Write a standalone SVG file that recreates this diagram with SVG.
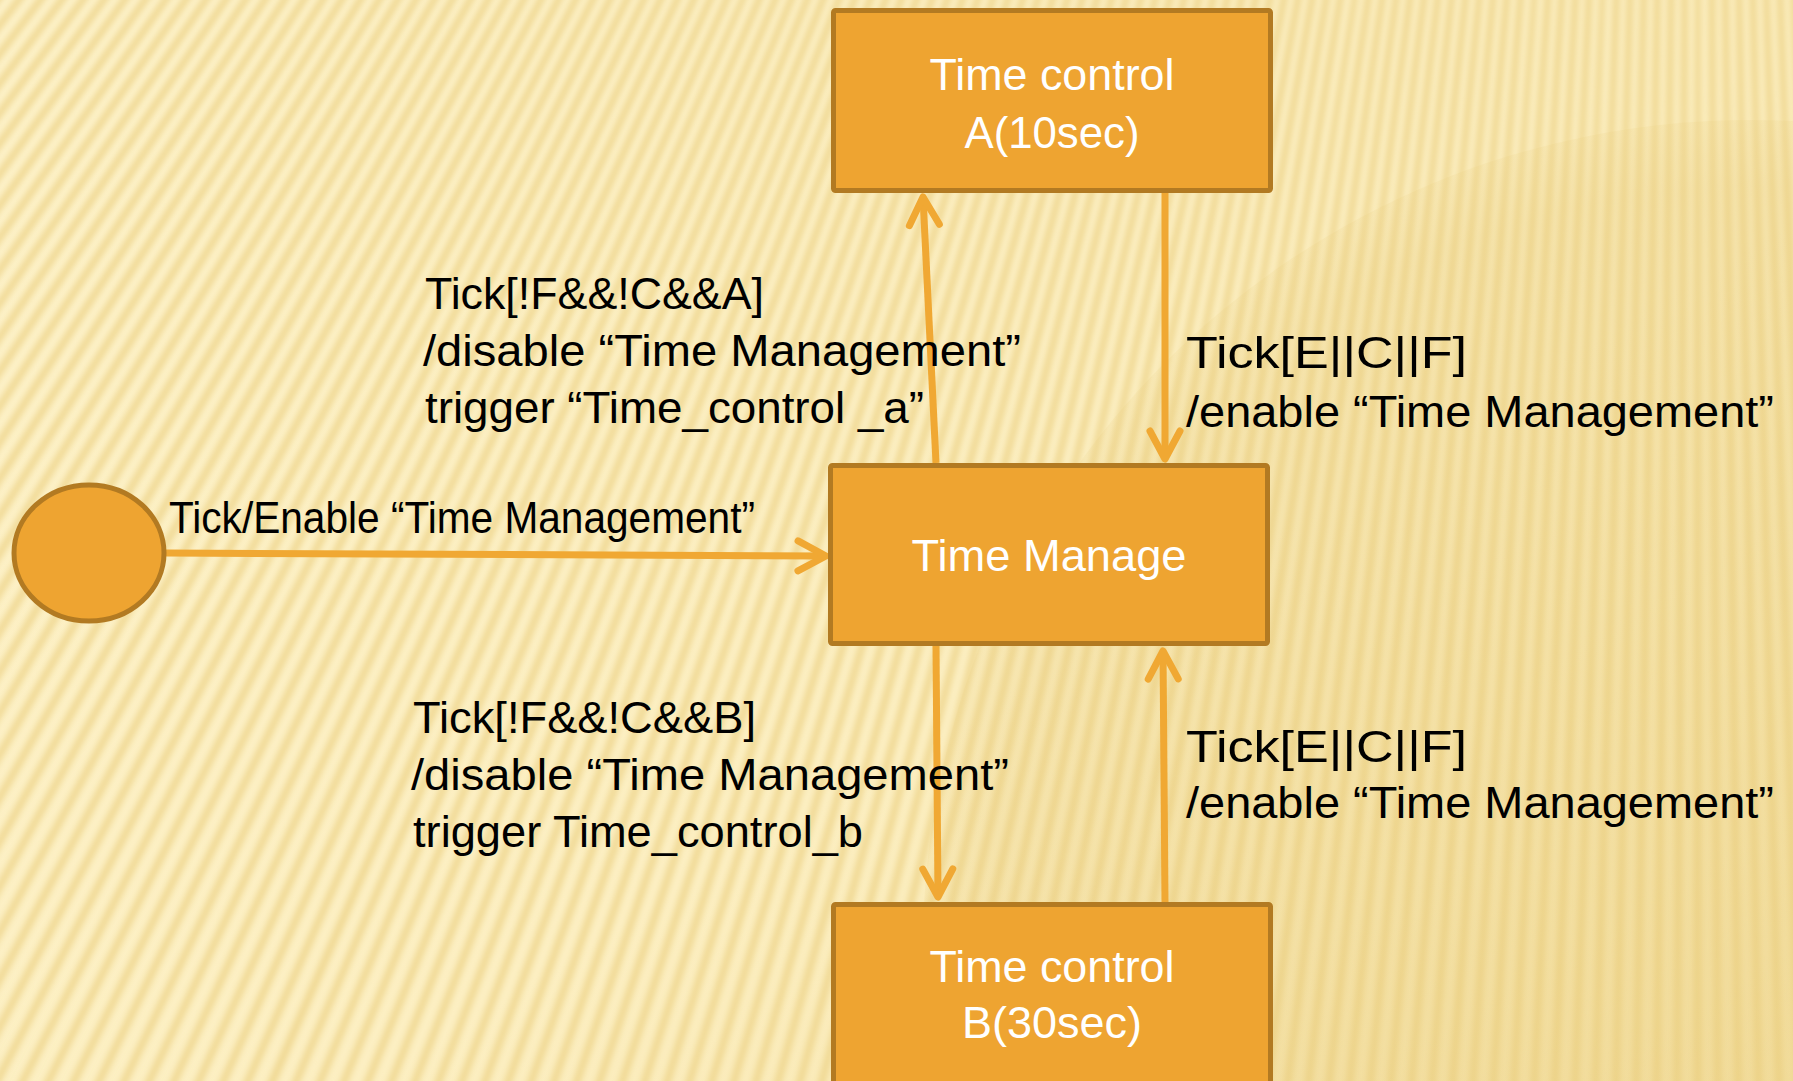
<svg xmlns="http://www.w3.org/2000/svg" width="1793" height="1081" viewBox="0 0 1793 1081">
  <defs>
    <style>
      .node { fill: #eea431; stroke: #b27a22; stroke-width: 5; }
      .ntext { font-family: "Liberation Sans", Arial, sans-serif; font-size: 44px; fill: #ffffff; text-anchor: middle; }
      .label { font-family: "Liberation Sans", Arial, sans-serif; font-size: 45px; fill: #000000; }
      .conn { fill: none; stroke: #f0a833; stroke-width: 7; marker-end: url(#ah); }
    </style>
    <marker id="ah" markerUnits="userSpaceOnUse" viewBox="-40 -22 50 44" markerWidth="50" markerHeight="44" refX="0" refY="0" orient="auto" overflow="visible">
      <path d="M-28,-15 L0,0 L-28,15" fill="none" stroke="#f0a833" stroke-width="7" stroke-linecap="round" stroke-linejoin="round"/>
    </marker>
    <linearGradient id="bg" x1="0" y1="0" x2="1" y2="1">
      <stop offset="0" stop-color="#fdf2c9"/>
      <stop offset="0.6" stop-color="#fcefc2"/>
      <stop offset="1" stop-color="#f6e3a8"/>
    </linearGradient>
    <radialGradient id="shade" cx="0.5" cy="0.5" r="0.5">
      <stop offset="0" stop-color="#e3c46e" stop-opacity="0.25"/>
      <stop offset="0.92" stop-color="#e3c46e" stop-opacity="0.22"/>
      <stop offset="1" stop-color="#e3c46e" stop-opacity="0.12"/>
    </radialGradient>
    <filter id="soft" x="-10%" y="-10%" width="120%" height="120%">
      <feGaussianBlur stdDeviation="3"/>
    </filter>
  </defs>

  <g id="background">
    <rect x="0" y="0" width="1793" height="1081" fill="url(#bg)"/>
    <circle cx="1700" cy="-2200" r="2900" fill="none" stroke="#ecd184" stroke-opacity="0.8" stroke-width="2400" stroke-dasharray="7 11" filter="url(#soft)"/>
    <circle cx="1750" cy="947" r="827" fill="url(#shade)"/>
  </g>

  <g id="connectors">
    <path class="conn" d="M166,553 L826,556"/>
    <path class="conn" d="M936,463 L923,197"/>
    <path class="conn" d="M1165,193 L1165,459"/>
    <path class="conn" d="M936,646 L938,897"/>
    <path class="conn" d="M1165,902 L1163,651"/>
  </g>

  <g id="start">
    <ellipse class="node" cx="89" cy="553" rx="75" ry="68"/>
  </g>

  <g id="time-control-a">
    <rect class="node" x="833.5" y="10.5" width="437" height="180" rx="2"/>
    <text class="ntext" x="1052" y="90" textLength="245" lengthAdjust="spacingAndGlyphs">Time control</text>
    <text class="ntext" x="1052" y="148" textLength="175" lengthAdjust="spacingAndGlyphs">A(10sec)</text>
  </g>

  <g id="time-manage">
    <rect class="node" x="830.5" y="465.5" width="437" height="178" rx="2"/>
    <text class="ntext" x="1049" y="571" textLength="275" lengthAdjust="spacingAndGlyphs">Time Manage</text>
  </g>

  <g id="time-control-b">
    <rect class="node" x="833.5" y="904.5" width="437" height="200" rx="2"/>
    <text class="ntext" x="1052" y="982" textLength="245" lengthAdjust="spacingAndGlyphs">Time control</text>
    <text class="ntext" x="1052" y="1038" textLength="180" lengthAdjust="spacingAndGlyphs">B(30sec)</text>
  </g>

  <g id="labels">
    <text class="label" x="169" y="533" font-size="39" textLength="586" lengthAdjust="spacingAndGlyphs">Tick/Enable “Time Management”</text>

    <text class="label" x="425" y="309" textLength="339" lengthAdjust="spacingAndGlyphs">Tick[!F&amp;&amp;!C&amp;&amp;A]</text>
    <text class="label" x="423" y="366" textLength="598" lengthAdjust="spacingAndGlyphs">/disable “Time Management”</text>
    <text class="label" x="425" y="423" textLength="499" lengthAdjust="spacingAndGlyphs">trigger “Time_control _a”</text>

    <text class="label" x="1186" y="368" textLength="281" lengthAdjust="spacingAndGlyphs">Tick[E||C||F]</text>
    <text class="label" x="1186" y="427" textLength="588" lengthAdjust="spacingAndGlyphs">/enable “Time Management”</text>

    <text class="label" x="413" y="733" textLength="343" lengthAdjust="spacingAndGlyphs">Tick[!F&amp;&amp;!C&amp;&amp;B]</text>
    <text class="label" x="411" y="790" textLength="598" lengthAdjust="spacingAndGlyphs">/disable “Time Management”</text>
    <text class="label" x="413" y="847" textLength="450" lengthAdjust="spacingAndGlyphs">trigger Time_control_b</text>

    <text class="label" x="1186" y="762" textLength="281" lengthAdjust="spacingAndGlyphs">Tick[E||C||F]</text>
    <text class="label" x="1186" y="818" textLength="588" lengthAdjust="spacingAndGlyphs">/enable “Time Management”</text>
  </g>
</svg>
